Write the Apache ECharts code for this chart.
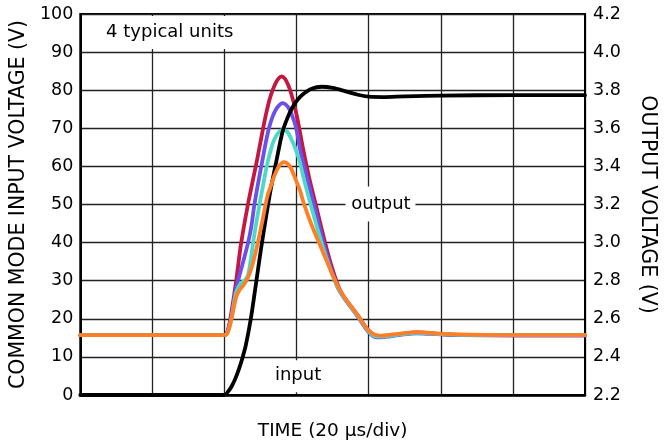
<!DOCTYPE html>
<html><head><meta charset="utf-8">
<script src="https://cdn.jsdelivr.net/npm/echarts@6/dist/echarts.min.js"></script>
<style>html,body{margin:0;padding:0;background:#fff}#c{width:668px;height:446px}</style>
</head><body><div id="c"></div>
<script>
// time axis (µs), 20 µs per division
const timeMin = 0, timeMax = 140, timeStep = 20;
// left axis: common mode input voltage (V)
const inMin = 0, inMax = 100, inStep = 10;
// right axis: output voltage (V)
const outMin = 2.2, outMax = 4.2, outStep = 0.2;

// [time µs, input V] for 4 typical units
const unitRed = [[0,15.7],[40,15.7],[40.8,16.6],[41.8,21],[43.2,29.7],[44.6,39.8],[46.5,50],[47.9,56.5],[49.2,62.5],[50.5,69],[51.7,74.5],[52.8,78.5],[54,81.5],[55,83.1],[55.8,83.6],[56.7,83.1],[57.7,81.3],[58.6,78.8],[59.7,74.8],[60.7,70.2],[61.8,64.6],[63.5,57],[65.3,50],[67.9,40],[69.8,33.5],[71.7,28.2],[73,26],[75,23.4],[77.5,20.2],[79.6,17.3],[81.5,15.8],[83.3,15.4],[86,15.6],[88.8,16.0],[93.4,16.4],[99.9,16.0],[105.4,15.8],[120,15.7],[140,15.7]];
const unitBlue = [[0,15.7],[40,15.7],[40.8,16.6],[41.8,20],[43.2,27.7],[45.1,34.7],[46.5,39.8],[47.4,44],[48.3,50],[49.5,56.5],[50.5,61.5],[51.5,66.5],[52.4,70.3],[53.4,73.2],[54.3,75],[55.2,76.1],[56.1,76.6],[57,76.2],[58,75],[58.9,73],[59.8,70.3],[60.5,67],[61.1,63.8],[62.9,57],[64.8,50],[67.4,40],[69.5,33.3],[71.5,28],[73,25.7],[75,23.1],[77.5,19.8],[79.6,16.9],[81.5,15.3],[83.3,15.1],[86,15.4],[88.8,15.8],[93.4,16.2],[99.9,15.9],[105.4,15.7],[120,15.6],[140,15.6]];
const unitCyan = [[0,15.7],[40,15.7],[40.9,16.5],[41.9,20],[43.2,26.9],[44.5,29.3],[45.7,30.2],[46.5,31.5],[47.2,35],[47.9,39.8],[48.8,45],[49.7,50],[50.6,54.5],[51.5,59],[52.4,62.8],[53.3,65.8],[54.1,67.6],[54.9,68.8],[55.6,69.4],[56.3,69.6],[57,69.4],[57.8,68.6],[58.6,67],[59.3,65.6],[60.1,63.5],[60.7,61.8],[62.2,56],[63.9,50],[66.9,40],[69.2,33.4],[71.4,28.2],[73,25.8],[75,23.2],[77.5,20],[79.6,17.1],[81.5,15.5],[83.3,15.3],[86,15.5],[88.8,15.9],[93.4,16.3],[99.9,16.0],[105.4,15.8],[120,15.7],[140,15.7]];
const unitOrange = [[0,15.7],[40,15.7],[40.9,16.4],[41.9,19.9],[43.2,25.6],[44.2,27.6],[45.1,28.6],[46.5,30.8],[47.9,34.7],[49.2,39.8],[50.6,46.1],[51.9,52.2],[52.8,54.7],[53.6,57],[54.4,58.8],[55.2,60.2],[55.9,60.9],[56.5,61.1],[57.2,60.9],[57.9,60.3],[58.6,59.2],[59.3,57.6],[60.2,55.5],[61,53.5],[62,50.3],[64,45],[66.2,40],[68.8,34.2],[71.3,28.8],[73,26],[75,23.4],[77.5,20.2],[79.6,17.3],[81.5,15.9],[83.3,15.6],[86,15.8],[88.8,16.1],[93.4,16.5],[99.9,16.1],[105.4,15.9],[120,15.7],[140,15.7]];
// [time µs, output V]
const outputV = [[0,2.2],[40,2.2],[41,2.218],[42,2.246],[43,2.286],[44,2.336],[45,2.396],[45.9,2.46],[47.3,2.6],[48.7,2.78],[50.1,2.964],[51.5,3.132],[52.8,3.278],[54.2,3.41],[56.1,3.582],[57.5,3.656],[58.8,3.708],[60.2,3.748],[61.6,3.776],[64,3.806],[67,3.818],[70,3.812],[73.6,3.794],[77,3.776],[80,3.766],[84,3.764],[90,3.768],[100,3.772],[120,3.774],[140,3.774]];

const FONT = '"DejaVu Sans", sans-serif';
const chart = echarts.init(document.getElementById('c'));
function line(data, color, z, yIdx, extra) {
  return Object.assign({
    type: 'line', data: data, yAxisIndex: yIdx, z: z, smooth: 0.3, symbol: 'none',
    lineStyle: { color: color, width: 3.8, cap: 'round', join: 'round' }, silent: true
  }, extra || {});
}
chart.setOption({
  animation: false,
  grid: { left: 79, right: 83, top: 14, bottom: 50, show: true, borderColor: '#000', borderWidth: 2, backgroundColor: 'transparent' },
  xAxis: {
    type: 'value', min: timeMin, max: timeMax, interval: timeStep,
    axisLabel: { show: false }, axisTick: { show: false },
    axisLine: { lineStyle: { color: '#000', width: 2.5 } },
    splitLine: { show: true, lineStyle: { color: '#222', width: 1.3 } },
    name: 'TIME (20 \u00b5s/div)', nameLocation: 'middle', nameGap: 27,
    nameTextStyle: { fontFamily: FONT, fontSize: 18.5, color: '#000' }
  },
  yAxis: [{
    type: 'value', position: 'left', min: inMin, max: inMax, interval: inStep,
    axisLine: { show: true, lineStyle: { color: '#000', width: 2 } }, axisTick: { show: false },
    axisLabel: { color: '#000', fontFamily: FONT, fontSize: 17.5, margin: 7 },
    splitLine: { show: true, lineStyle: { color: '#222', width: 1.3 } },
    name: 'COMMON MODE INPUT VOLTAGE (V)', nameLocation: 'middle', nameRotate: 90, nameGap: 45,
    nameTextStyle: { fontFamily: FONT, fontSize: 20.5, color: '#000' }
  }, {
    type: 'value', position: 'right', min: outMin, max: outMax, interval: outStep,
    axisLine: { show: true, lineStyle: { color: '#000', width: 2 } }, axisTick: { show: false },
    axisLabel: { color: '#000', fontFamily: FONT, fontSize: 17.5, margin: 8, formatter: v => v.toFixed(1) },
    splitLine: { show: false },
    name: 'OUTPUT VOLTAGE (V)', nameLocation: 'middle', nameRotate: -90, nameGap: 52,
    nameTextStyle: { fontFamily: FONT, fontSize: 20.5, color: '#000' }
  }],
  series: [
    line(unitRed, '#C41840', 3, 0),
    line(unitBlue, '#6D50EC', 4, 0),
    line(unitCyan, '#4ED8C8', 5, 0),
    line(outputV, '#000000', 6, 1, { clip: false }),
    line(unitOrange, '#FF7F27', 7, 0)
  ]
});

// annotations anchored at data coordinates
const notes = [
  { text: '4 typical units', at: [24.8, 95.3], box: [-87.5, -16, 159, 33] },
  { text: 'output', at: [83.4, 50], box: [-35.5, -18, 70, 35] },
  { text: 'input', at: [60.4, 5.2], box: [-29.5, -15, 59, 32] }
];
const g = [];
notes.forEach(n => {
  const p = chart.convertToPixel({ xAxisIndex: 0, yAxisIndex: 0 }, n.at);
  g.push({ type: 'rect', z: 1, silent: true, shape: { x: p[0] + n.box[0], y: p[1] + n.box[1], width: n.box[2], height: n.box[3] }, style: { fill: '#fff' } });
  g.push({ type: 'text', z: 1, silent: true, x: p[0], y: p[1], style: { text: n.text, fill: '#000', font: '18px ' + FONT, align: 'center', verticalAlign: 'middle' } });
});
chart.setOption({ graphic: g });
</script>
</body></html>
